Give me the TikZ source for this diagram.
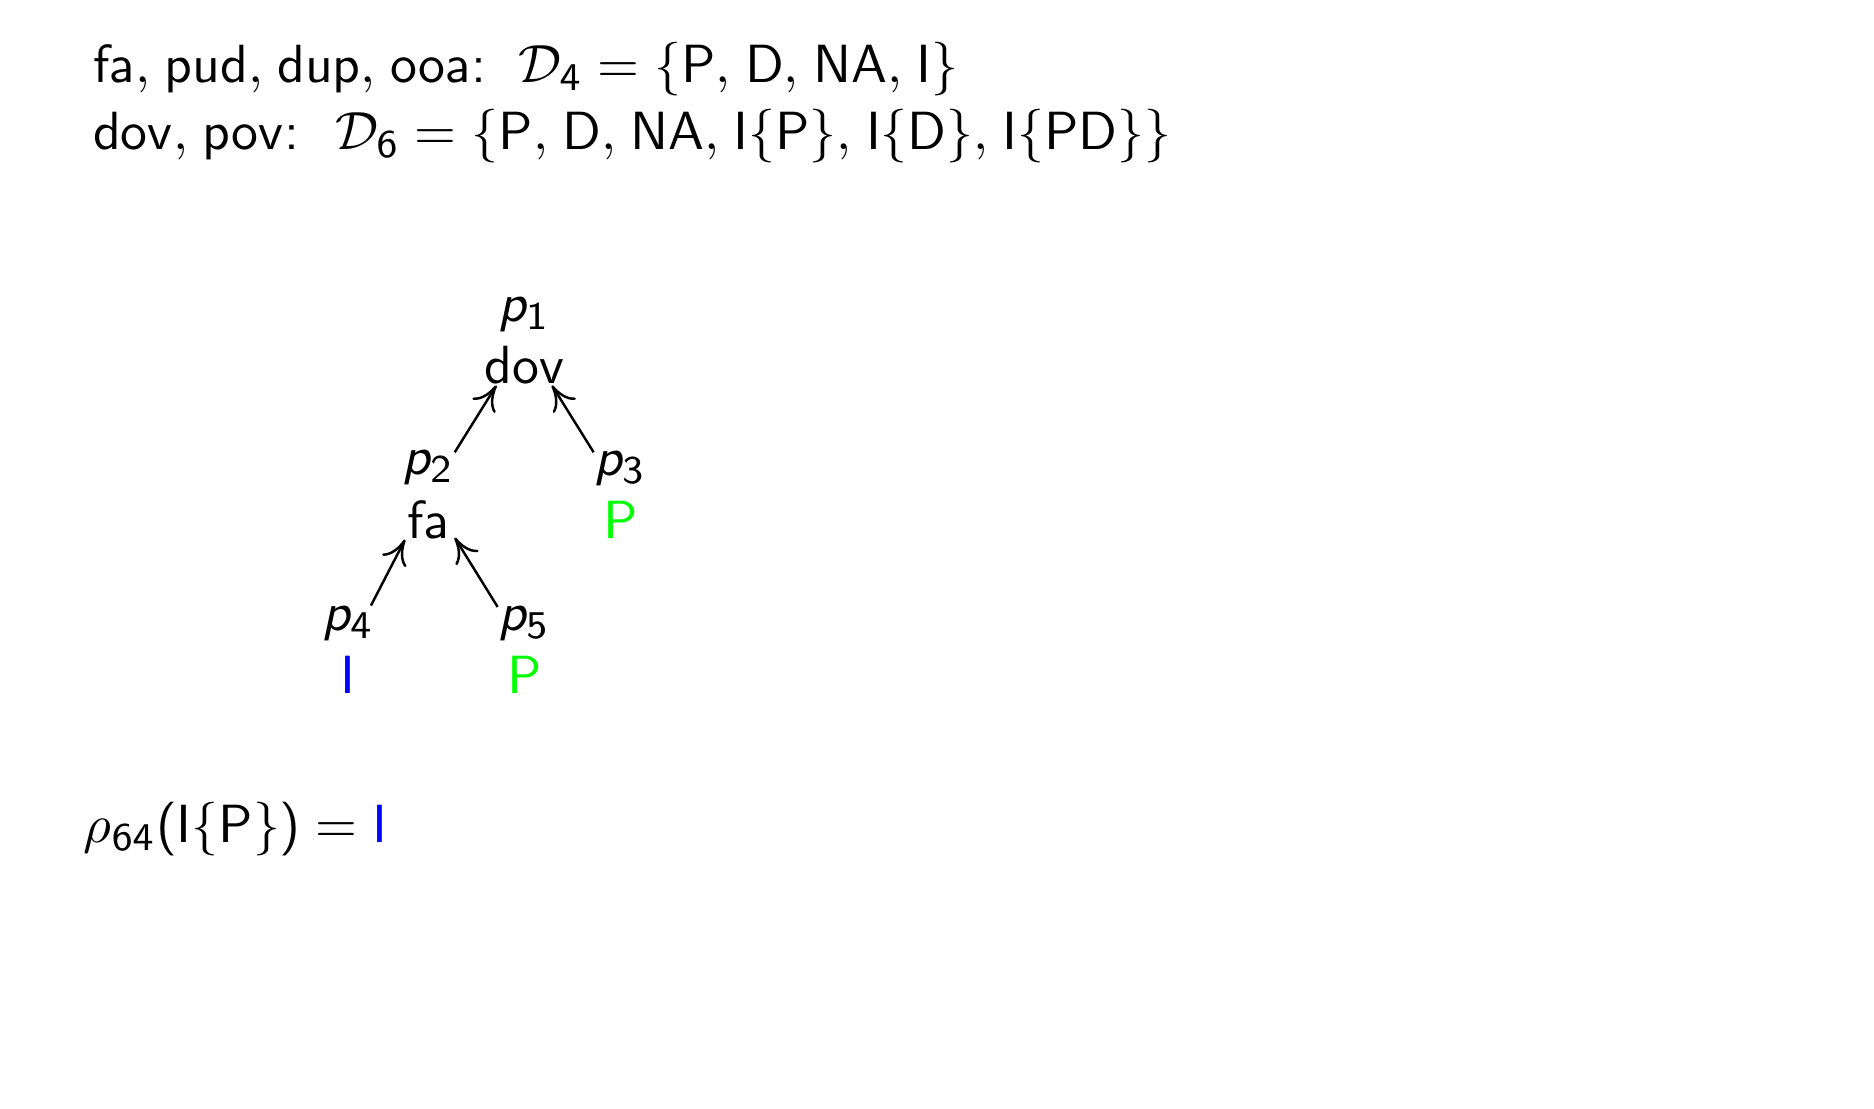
\documentclass[tikz,border=0pt,11pt]{standalone}
\usetikzlibrary{arrows.meta}
\DeclareSymbolFont{operators}{OT1}{cmss}{m}{n}
\DeclareMathAlphabet{\mathsl}{OT1}{cmss}{m}{sl}
\newcommand{\plab}[1]{$\mathsl{p}_{#1}$}
\newcommand{\csep}{,\mkern1.8mu}
\begin{document}
\begin{tikzpicture}[font=\sffamily,
  tnode/.style={inner sep=0pt,anchor=base},
  line/.style={inner sep=0pt,anchor=base west},
  up/.style={line width=0.5pt,-{To[length=5pt,width=5.5pt]}}]
\useasboundingbox (0,0) rectangle (13.41,7.93);
\node[line] (dfour) at (0.66,7.337) {$\mathsf{fa}\csep\mathsf{pud}\csep\mathsf{dup}\csep\mathsf{ooa}$:\hspace{6.5pt}$\mathcal{D}_4=\{\mathsf{P}\csep\mathsf{D}\csep\mathsf{NA}\csep\mathsf{I}\}$};
\node[line] (dsix) at (0.66,6.858) {$\mathsf{dov}\csep\mathsf{pov}$:\hspace{7.3pt}$\mathcal{D}_6=\{\mathsf{P}\csep\mathsf{D}\csep\mathsf{NA}\csep\mathsf{I}\{\mathsf{P}\}\csep\mathsf{I}\{\mathsf{D}\}\csep\mathsf{I}\{\mathsf{PD}\}\}$};
\node[tnode] (dov) at (3.751,5.183) {\shortstack{\plab{1}\\dov}};
\node[tnode] (fa) at (3.064,4.080) {\shortstack{\plab{2}\\fa}};
\node[tnode] (pthree) at (4.438,4.080) {\shortstack{\plab{3}\\\textcolor{green}{P}}};
\node[tnode] (ifour) at (2.491,2.971) {\shortstack{\plab{4}\\\textcolor{blue}{I}}};
\node[tnode] (pfive) at (3.751,2.971) {\shortstack{\plab{5}\\\textcolor{green}{P}}};
\draw[up] (fa) -- (dov);
\draw[up] (pthree) -- (dov);
\draw[up] (ifour) -- (fa);
\draw[up] (pfive) -- (fa);
\node[line] (rho) at (0.594,1.904) {$\rho_{64}(\mathsf{I}\{\mathsf{P}\})=\textcolor{blue}{\mathsf{I}}$};
\end{tikzpicture}
\end{document}
